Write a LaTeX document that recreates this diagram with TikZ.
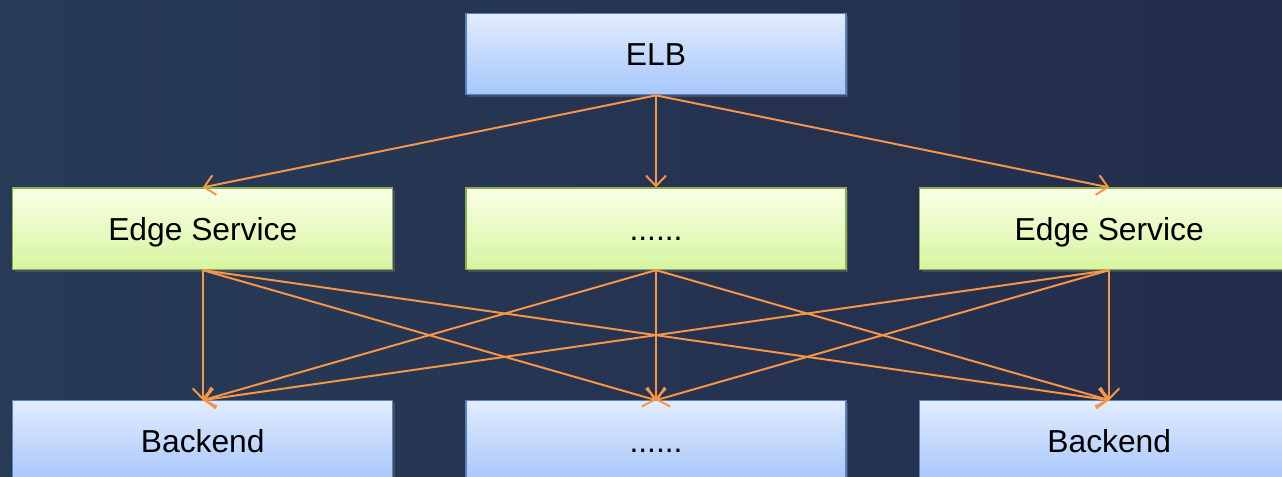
\documentclass[tikz,border=0pt]{standalone}
\usepackage{fontspec}
\setmainfont{Liberation Sans}
\usepackage{tikz}
\usetikzlibrary{arrows.meta,positioning,shadows}

\definecolor{bgleft}{RGB}{39,59,86}
\definecolor{bgright}{RGB}{35,45,76}
\definecolor{bluetop}{RGB}{226,236,255}
\definecolor{bluebot}{RGB}{166,198,250}
\definecolor{blueline}{RGB}{88,130,190}
\definecolor{greentop}{RGB}{250,255,230}
\definecolor{greenbot}{RGB}{214,244,160}
\definecolor{greenline}{RGB}{140,176,80}
\definecolor{linkcol}{RGB}{248,150,70}

\begin{document}
\begin{tikzpicture}[x=0.025cm,y=-0.025cm,
semithick, node distance=2.3cm,
font=\fontsize{22.6}{27}\selectfont]

\tikzstyle{every box}=[rectangle, minimum width=9.5cm, minimum height=2.04cm,
text centered, text=black, line width=0.8pt, text height=0.57cm, text depth=0cm,
drop shadow={opacity=0.35,shadow xshift=0.06cm,shadow yshift=-0.06cm}]
\tikzstyle{lbbox}=[every box, draw=blueline, top color=bluetop, bottom color=bluebot]
\tikzstyle{edgebox}=[every box, draw=greenline, top color=greentop, bottom color=greenbot]
\tikzstyle{link}=[draw=linkcol, line width=1.4pt, -{Straight Barb[length=2.6mm,width=5mm]}]

%background
\shade[left color=bgleft, right color=bgright] (0,0) rectangle (1282,476);
\useasboundingbox (0,0) rectangle (1282,476);

%balancer
\node[lbbox]
(elb) at (656,54)
{ELB};

%edge row
\node[edgebox]
(edgemid) [below=of elb]
{......};

\node[edgebox]
(edgeleft) [left=1.8cm of edgemid]
{Edge Service};

\node[edgebox]
(edgeright) [right=1.8cm of edgemid]
{Edge Service};

%backend row
\node[lbbox]
(backmid) [below=3.25cm of edgemid]
{......};

\node[lbbox]
(backleft) [left=1.8cm of backmid]
{Backend};

\node[lbbox]
(backright) [right=1.8cm of backmid]
{Backend};

\draw[link] (elb.south) -- (edgeleft.north);
\draw[link] (elb.south) -- (edgemid.north);
\draw[link] (elb.south) -- (edgeright.north);

\foreach \e in {edgeleft,edgemid,edgeright}
  \foreach \b in {backleft,backmid,backright}
    \draw[link] (\e.south) -- (\b.north);

\end{tikzpicture}
\end{document}
